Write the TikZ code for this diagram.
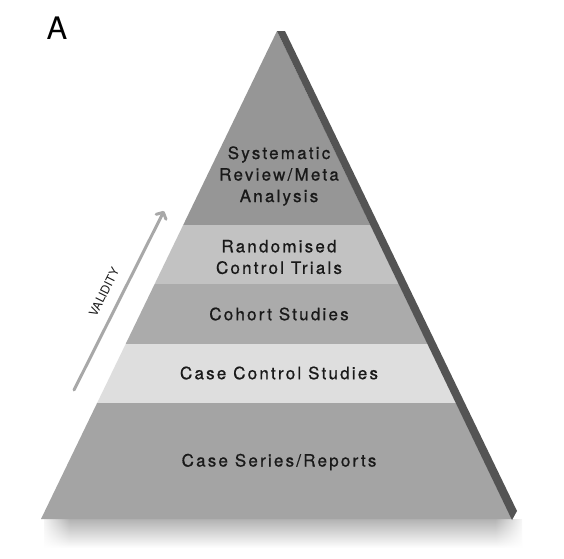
\documentclass[tikz,border=0pt]{standalone}
\usepackage{fontspec}
\setmainfont{TeX Gyre Heros}
\newfontfamily\bandfont[LetterSpace=13,FakeBold=0.8]{TeX Gyre Heros}
\newfontfamily\valfont{TeX Gyre Heros}
\usetikzlibrary{arrows.meta,fadings}
\definecolor{bandtop}{gray}{0.59}
\definecolor{bandrct}{gray}{0.76}
\definecolor{bandcoh}{gray}{0.67}
\definecolor{bandcc}{gray}{0.87}
\definecolor{bandcs}{gray}{0.645}
\definecolor{edgedark}{gray}{0.33}
\definecolor{arrowgray}{gray}{0.66}
\definecolor{txt}{gray}{0.1}
\tikzset{
  bandtext/.style={font=\bandfont\fontsize{17}{21.5}\selectfont, text=txt, align=center, inner sep=0pt},
}
\begin{document}
\begin{tikzpicture}[x=1pt,y=-1pt]
\useasboundingbox (0,0) rectangle (564,558);
% soft shadow under base
\shade[top color=black!30, bottom color=white] (44,519) rectangle (522,548);
\fill[white, path fading=east] (40,517) rectangle (70,550);
\fill[white, path fading=west] (495,517) rectangle (525,550);
% front face bands
\begin{scope}
  \clip (277,31) -- (41,519) -- (512,519) -- cycle;
  \fill[bandtop] (0,0) rectangle (564,225);
  \fill[bandrct] (0,225) rectangle (564,284);
  \fill[bandcoh] (0,284) rectangle (564,344);
  \fill[bandcc] (0,344) rectangle (564,403);
  \fill[bandcs] (0,403) rectangle (564,520);
\end{scope}
% dark side edge
\fill[edgedark] (277,31) -- (285,31) -- (517,511) -- (512,520) -- cycle;
% panel label
\node[font=\fontsize{31}{31}\selectfont, text=black, inner sep=0pt] (lab) at (57,28) {A};
% band texts
\node[bandtext] (sr) at (279,176) {Systematic\\Review/Meta\\Analysis};
\node[bandtext] (rct) at (279,257) {Randomised\\Control Trials};
\node[bandtext] (coh) at (279,314) {Cohort Studies};
\node[bandtext] (cc) at (279,373) {Case Control Studies};
\node[bandtext] (cs) at (279,462) {Case Series/Reports};
% validity arrow
\coordinate (vtail) at (74,390);
\coordinate (vhead) at (164,211);
\draw[arrowgray, line width=3pt, line cap=round, -{Straight Barb[length=5pt,width=11pt,round]}] (vtail) -- (vhead);
\node[font=\valfont\fontsize{12}{12}\selectfont, text=txt, rotate=63.3, inner sep=0pt] (val) at (104,292) {VALIDITY};
\end{tikzpicture}
\end{document}
